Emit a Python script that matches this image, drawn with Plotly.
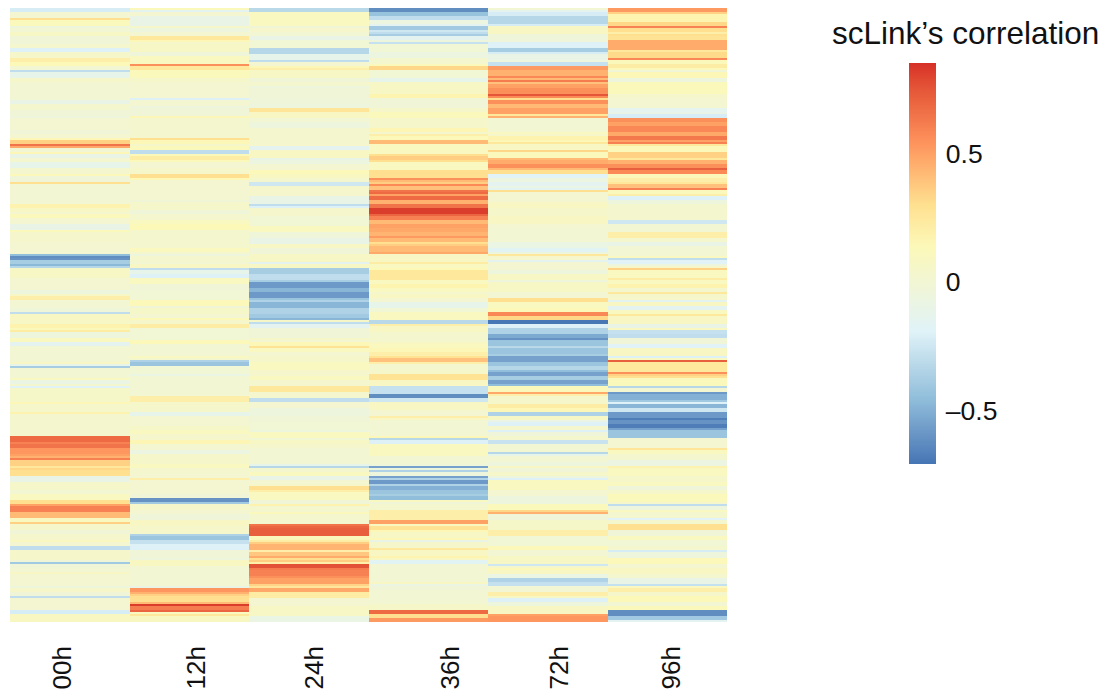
import plotly.graph_objects as go

W, H = 1109, 693
timepoints = ["00h", "12h", "24h", "36h", "72h", "96h"]
label_px = [61, 195, 313, 449, 558, 670]
bar_ticks = [-0.5, 0, 0.5]
bar_labels = ["–0.5", "0", "0.5"]
zmin, zmax = -0.708, 0.852
palette = ["#4575B4", "#91BFDB", "#E0F3F8", "#FCF8B8", "#FEE090", "#FC8D59", "#D73027"]
palette_at = [-0.708, -0.45, -0.19, 0.14, 0.30, 0.56, 0.852]

h00 = [
-.22,-.22,.02,.02,.02,.3,.12,.12,.12,-.05,
0,0,.07,.07,-.02,-.02,-.02,-.02,.03,.03,
-.2,-.2,.05,.05,.05,.2,.2,.14,.14,0,
0,-.3,-.12,-.12,-.12,.05,.05,.01,.01,.01,
.01,.01,.01,.01,.01,0,-.1,-.1,.03,.03,
.03,-.02,-.02,-.02,-.05,.02,.02,.02,.02,.02,
.02,-.02,-.02,.02,.02,.15,.35,.35,.65,.48,
0,0,.15,-.1,-.1,.02,
.03,-.12,-.12,-.12,.03,.03,.03,.13,-.02,-.02,
-.02,.3,.01,.01,.01,.01,.01,.01,.01,.01,
.01,.01,.18,.18,.08,.08,.02,.12,.12,.02,
.02,.02,-.1,-.1,-.1,.12,.04,.04,.04,.04,
.04,.02,.02,.02,.02,.02,.02,-.45,-.62,-.6,
-.38,-.38,-.47,-.33,.07,.07,.07,.07,.07,.02,
.02,.02,.02,.02,.02,-.05,-.05,.07,.2,.2,
0,0,0,0,-.03,-.03,-.3,.08,.08,.08,
.07,.07,.18,.18,.12,.22,-.05,-.05,-.05,.1,
.1,-.15,-.15,0,0,0,0,0,0,0,
0,.08,-.12,-.38,0,0,0,0,0,.1,
-.08,-.08,.03,-.18,.06,.06,.06,.06,.06,.06,
.06,.15,.05,.05,.05,.05,.18,.03,.03,.03,
.03,.03,.03,.03,.03,.03,.03,.03,.68,.68,
.68,.6,.65,.65,.53,.53,.53,.5,.45,.6,
.35,.35,.35,.25,.33,.3,.3,.3,-.1,-.1,
-.1,.05,.05,.05,.05,0,0,.1,.1,.1,
.3,.3,.5,.6,.6,.6,.42,.42,.42,.1,
.1,.35,.05,.05,.05,-.02,-.02,.04,.04,.04,
.1,.02,.02,-.3,-.3,.05,.05,.05,.05,.05,
-.02,-.4,-.02,-.02,.01,.01,.08,.02,.02,.02,
.02,.02,.02,-.05,.05,.05,-.02,-.02,-.3,.02,
.02,.02,.02,.02,.02,-.22,-.22,.09,.09,.09,.09]

h12 = [
.12,-.15,.02,.02,-.1,-.1,-.1,-.1,-.1,.05,
-.05,-.05,.02,.02,.25,.25,.15,.05,.07,.07,
.07,.07,-.03,-.03,.1,.1,.1,.1,.55,.25,
.25,.12,.12,.12,.12,.05,.05,.02,.02,.02,
.02,.02,.02,.02,.02,-.2,.02,.02,.02,-.05,
-.02,-.02,-.02,-.02,.15,.03,.03,.03,.03,.03,
.03,.03,.03,.03,.03,.3,.15,.15,.05,.12,
.12,-.3,-.3,.13,.22,.22,
.12,.02,.02,.02,.05,.05,.05,.3,.3,.14,
.02,.02,.02,.02,.02,.02,.02,.02,.02,.02,
-.02,.05,.05,.05,.05,-.03,-.03,.03,.03,.03,
.1,.1,.14,.14,.14,.03,.03,.03,.03,.03,
.03,.03,.03,.03,.11,.11,.03,-.05,.03,.03,
.03,0,.08,.08,-.3,-.12,-.12,-.2,-.2,.1,
.1,.1,-.02,-.02,-.02,-.01,-.01,-.01,-.01,-.01,
.13,.13,.13,-.02,.06,.06,.06,.02,.02,.14,
.05,.05,.22,.22,-.01,-.01,-.01,-.01,-.01,-.01,
.13,.13,0,0,0,0,0,0,.1,.03,
-.35,-.42,-.42,-.01,-.01,-.01,-.01,-.08,.01,.01,
.01,.01,.01,.01,.01,.01,.01,.01,.2,.2,
.2,.05,.05,.05,.05,.05,-.12,-.12,.02,.02,
.02,.02,.02,.06,.06,.1,.1,.04,.04,.04,
.16,.16,.02,.02,.02,-.07,-.07,.05,.05,.05,
.05,.05,.1,.1,.03,.03,.03,.02,.02,.2,
.02,.02,.02,.02,.02,.02,.02,-.02,-.02,-.6,
-.6,-.4,.05,.05,.05,.02,.02,-.03,-.03,-.03,
.08,.08,.08,.05,.05,.05,.05,-.35,-.42,-.42,
-.28,-.28,-.2,-.2,-.2,-.02,-.02,-.02,-.02,-.05,
.09,.09,.09,.01,.01,.01,.01,.01,.01,.01,
.01,.01,.01,-.1,.53,.53,.45,.35,.3,.3,
.3,.42,.82,.62,.62,.7,.1,.25,.09,.09,.09]

h24 = [
-.32,-.32,.1,.1,.1,.1,.1,.1,.1,-.02,
.04,.04,.01,.01,-.1,-.1,-.01,-.01,-.01,-.01,
-.33,-.33,-.33,-.12,-.12,-.12,-.3,.02,.02,.15,
.2,.07,.07,.07,.07,-.02,-.02,.03,.03,-.05,
-.02,-.02,-.02,-.02,-.02,-.03,-.03,-.03,-.05,-.05,
.27,.27,.08,.08,.08,0,0,-.05,-.05,-.05,
.03,.03,.03,.03,.03,.03,.03,.03,.04,-.15,
-.15,.08,.08,.08,.08,-.1,
-.06,-.06,.02,.02,.02,.13,.13,.09,.09,.03,
.03,-.25,-.25,.04,.04,.04,.04,.04,-.1,-.1,
-.1,-.1,-.3,-.2,.04,.04,.04,.04,-.01,-.01,
-.01,-.01,-.01,.1,.1,.1,-.03,-.03,-.03,-.1,
-.1,-.1,.07,.07,-.02,-.02,-.02,.07,.07,.07,
.07,-.15,.07,.07,-.38,-.38,-.38,-.3,-.3,-.3,
-.38,-.58,-.58,-.58,-.48,-.48,-.58,-.58,-.58,-.42,
-.35,-.48,-.48,-.48,-.35,-.35,-.35,-.4,-.4,-.48,
.06,-.3,-.15,-.15,-.02,-.02,-.02,-.02,-.02,.06,
.02,.15,.15,.28,.1,.1,.02,.02,.05,.05,
.05,.1,.1,.1,.1,.04,.04,.04,.1,.1,
.03,.03,.03,.25,.25,.25,.03,.03,.03,-.3,
-.3,.02,.02,.02,-.05,-.05,-.05,-.05,-.02,-.02,
-.02,-.01,-.01,-.01,-.01,-.05,.1,.1,.1,-.01,
.07,.07,.04,.04,0,0,0,0,.01,.01,
.01,.01,-.12,-.33,.03,.03,.1,.1,-.1,-.1,
.02,.02,.05,.3,.3,.2,.1,.1,.1,.1,
-.02,-.02,.18,.03,.03,.03,.12,.03,.03,.03,
.03,.03,.65,.7,.72,.72,.72,.72,.12,.12,
.22,.36,.44,.44,.44,.2,.38,.38,.47,.3,
.36,.2,.76,.76,.62,.6,.6,.6,.55,.5,
.5,.5,.34,.26,.48,.48,.22,.22,.22,.02,
.02,.02,.02,.07,.07,.07,.07,.07,-.08,-.08,-.08]

h36 = [
-.62,-.62,-.43,-.43,-.3,-.3,-.06,-.06,-.15,-.4,
-.4,-.25,-.3,-.38,-.15,-.15,-.05,-.28,-.01,-.01,
-.01,-.01,-.06,-.06,-.06,.03,.03,.03,.12,.33,
.33,-.01,-.01,-.01,-.01,-.12,-.12,.07,.07,.07,
.07,.07,.07,.17,.17,-.02,-.02,-.02,-.02,-.02,
.05,.05,.12,.12,.12,.05,.05,.05,.05,.05,
.16,.16,.03,.2,.13,.13,.42,.42,.1,.1,
.1,.1,.1,.3,.36,.36,
.3,.1,.1,.1,.1,.3,.3,.3,.3,.55,
.42,.36,.57,.4,.4,.65,.68,.5,.68,.68,
.45,.45,.65,.65,.82,.82,.82,.7,.6,.6,
.42,.42,.5,.5,.48,.48,.44,.44,.52,.42,
.42,.3,.36,.42,.42,.42,.48,.08,.08,.08,
.08,.22,.1,.1,.14,.25,.25,.25,.25,.25,
.1,.1,.17,.17,.1,.1,.03,.08,.08,.02,
.02,-.12,-.12,-.12,-.01,-.01,.1,.1,.1,.1,
-.32,-.32,.2,.08,.08,.08,.03,.03,.03,.03,
.03,.08,.11,.11,.15,.15,.2,.2,.28,.4,
.4,.2,.03,.03,.03,.05,.05,.28,.28,.28,
.08,.08,.08,-.28,-.28,-.28,-.28,-.62,-.62,-.25,
-.25,.08,.08,.08,.08,.02,.02,.02,.2,.08,
.01,.01,.01,.01,.01,.01,.01,.01,.15,-.33,
-.2,-.2,.1,.1,.1,.1,.1,.1,0,0,
0,0,-.03,-.55,-.05,-.35,-.05,-.05,-.55,-.35,
-.58,-.58,-.35,-.5,-.5,-.42,-.42,-.38,-.45,-.45,
.1,-.02,.03,.03,.03,.2,.2,.2,.2,.2,
.5,.5,.1,.28,.28,.15,.07,.07,.07,.15,
-.1,.05,.05,.05,.25,.08,.08,.08,.17,.08,
-.17,-.17,0,0,0,0,0,0,0,0,
0,.08,-.07,-.02,-.02,0,0,0,0,0,
0,0,.06,.06,.06,.68,.68,.3,.3,.52,.52]

h72 = [
0,-.15,-.22,-.22,-.33,-.33,-.33,-.33,-.22,.08,
.08,.08,.08,-.03,-.03,-.03,-.03,-.2,-.2,-.2,
-.38,-.38,-.22,-.1,-.1,-.1,-.05,-.28,-.28,.52,
.52,.45,.45,.45,.58,.42,.62,.4,.5,.5,
.55,.55,.55,.75,.57,.3,.55,.55,.42,.42,
.5,.5,.5,.25,.45,0,0,0,0,0,
0,0,.1,.05,.18,.18,.15,.25,.08,.08,
.08,.33,.12,.12,.12,.42,
.47,.47,.55,.55,.42,.3,.3,-.18,-.18,-.06,
-.06,-.15,-.15,-.08,-.17,.3,.02,.02,.02,.02,
.02,.08,.08,.08,.05,.05,.05,.05,.08,.08,
.08,.08,.02,.02,0,0,0,0,0,0,
0,-.08,-.08,-.08,-.17,-.17,-.05,.25,.04,.04,
-.15,.02,.02,.02,.02,-.05,-.05,.07,.07,.07,
-.04,.07,.07,.07,.07,.07,0,0,0,.3,
.3,.1,.1,.1,.14,.14,.58,.58,.33,.33,
-.7,-.7,-.2,-.2,-.35,-.35,-.35,-.52,-.52,-.6,
-.42,-.42,-.42,-.32,-.42,-.42,-.42,-.38,-.55,-.55,
-.55,-.42,-.42,-.33,-.33,-.45,-.55,-.55,-.38,-.38,
-.55,-.55,-.45,.12,.12,.12,.48,.2,.05,.05,
.05,.05,.22,.22,.15,.15,-.35,-.35,.07,.07,
-.1,-.2,-.2,.03,.03,-.2,-.03,-.03,.03,.03,
-.27,-.27,0,0,0,0,-.33,-.12,0,0,
0,-.05,-.05,.08,-.02,-.02,.05,.05,-.05,-.2,
.1,.1,.1,.1,.1,.02,.02,.02,-.05,-.05,
-.05,-.05,.12,.12,.12,.33,.45,-.02,-.02,-.02,
.06,.06,.06,.06,.06,.2,.2,.2,-.01,-.01,
-.01,-.01,-.01,.13,.13,0,0,0,.07,.07,
.07,.07,-.25,.05,.13,.08,.08,-.08,-.08,-.35,
-.35,-.28,-.28,0,0,0,.2,.2,.07,-.2,
-.2,-.05,-.05,.08,.08,.08,.08,.5,.53,.53,.53]

h96 = [
.52,.52,.35,.17,.17,.17,.17,.33,.33,.6,
.3,.3,.2,.3,.28,.28,.47,.47,.47,.47,
.47,.25,.32,.32,.32,.58,.12,.12,.22,.22,
.12,-.02,.15,.15,.15,-.05,-.05,.12,.12,.12,
.12,.12,.12,.04,.04,.02,.02,.02,.02,.02,
-.14,-.14,-.1,-.22,-.22,.55,.55,.5,.5,.58,
.58,.58,.48,.48,.63,.63,.5,.6,.25,.13,
.13,.13,.35,.35,.35,.25,
.45,.45,.55,.55,.72,.57,.57,.13,.13,.2,
.2,.25,.4,.4,.6,.12,.12,.2,-.2,-.2,
-.05,-.05,.03,.03,.03,.03,.03,.03,.03,.03,
-.25,-.25,0,0,0,0,.2,.2,.2,.03,
.03,-.1,-.1,0,0,0,0,0,.1,-.3,
-.18,-.18,-.05,.05,.35,.1,.1,.1,.1,.22,
.1,.1,.18,.18,.03,.03,.25,.05,.05,.05,
-.15,.08,.08,-.15,-.15,.1,.1,.25,.08,.08,
.08,.08,-.1,-.1,.1,-.28,-.28,-.3,-.3,-.02,
-.02,-.02,-.18,-.18,.08,.08,.08,.08,-.2,.1,
.72,.25,.25,.25,.25,.25,.55,.35,.3,.12,
.12,.12,.12,-.33,.02,.02,-.58,-.5,-.5,-.5,
-.4,-.2,-.48,-.48,-.25,-.25,-.58,-.58,-.58,-.68,
-.6,-.6,-.68,-.68,-.55,-.42,-.42,-.42,-.42,.02,
.02,.02,.02,.02,.27,.1,.1,.03,.03,.03,
-.07,-.07,-.07,.18,.1,.1,.1,.1,.05,.05,
.05,.1,.1,-.03,-.03,.05,.05,.13,.12,.12,
.12,.05,-.3,-.05,-.05,.1,.03,.03,.03,-.18,
.03,.03,.3,.3,.3,-.02,-.02,-.02,.1,.1,
-.01,-.01,-.01,.03,.03,-.22,-.05,-.05,-.05,.13,
.13,.13,.02,.02,.08,.08,.08,.03,.03,-.1,
-.1,-.1,-.28,.1,.2,.2,.05,.05,.14,.14,
.14,0,0,.12,.12,-.62,-.62,-.62,-.4,-.4,-.15]

columns = [h00, h12, h24, h36, h72, h96]
assert all(len(c) == 307 for c in columns), [len(c) for c in columns]
z = [list(row) for row in zip(*columns)]

FONT = "Liberation Sans, Helvetica, Arial, sans-serif"


def hex_to_lab(h):
    r, g, b = [int(h[i:i + 2], 16) / 255 for i in (1, 3, 5)]
    lin = [c / 12.92 if c <= 0.04045 else ((c + 0.055) / 1.055) ** 2.4 for c in (r, g, b)]
    X = (0.4124 * lin[0] + 0.3576 * lin[1] + 0.1805 * lin[2]) / 0.95047
    Y = 0.2126 * lin[0] + 0.7152 * lin[1] + 0.0722 * lin[2]
    Z = (0.0193 * lin[0] + 0.1192 * lin[1] + 0.9505 * lin[2]) / 1.08883
    f = [t ** (1 / 3) if t > 0.008856 else 7.787 * t + 16 / 116 for t in (X, Y, Z)]
    return 116 * f[1] - 16, 500 * (f[0] - f[1]), 200 * (f[1] - f[2])


def lab_to_hex(L, a, b):
    fy = (L + 16) / 116
    fx, fz = fy + a / 500, fy - b / 200
    X, Y, Z = [t ** 3 if t ** 3 > 0.008856 else (t - 16 / 116) / 7.787 for t in (fx, fy, fz)]
    X, Z = X * 0.95047, Z * 1.08883
    lin = (3.2406 * X - 1.5372 * Y - 0.4986 * Z,
           -0.9689 * X + 1.8758 * Y + 0.0415 * Z,
           0.0557 * X - 0.2040 * Y + 1.0570 * Z)
    out = []
    for c in lin:
        c = max(0.0, min(1.0, c))
        c = 12.92 * c if c <= 0.0031308 else 1.055 * c ** (1 / 2.4) - 0.055
        out.append(round(c * 255))
    return "#%02X%02X%02X" % tuple(out)


# colour ramp blended in Lab space, which gives the greyer mid-tones of the reference
steps = 12
span = zmax - zmin
scale = []
for i in range(len(palette) - 1):
    a, b = hex_to_lab(palette[i]), hex_to_lab(palette[i + 1])
    for s in range(steps):
        t = s / steps
        v = palette_at[i] + (palette_at[i + 1] - palette_at[i]) * t
        scale.append([(v - zmin) / span, lab_to_hex(*[p + (q - p) * t for p, q in zip(a, b)])])
scale.append([1.0, palette[-1]])

fig = go.Figure(go.Heatmap(
    z=z, x=timepoints, zmin=zmin, zmax=zmax, colorscale=scale,
    colorbar=dict(
        x=909 / W, xanchor="left", xref="paper",
        y=1 - 464 / H, yanchor="bottom", yref="paper",
        len=401, lenmode="pixels", thickness=27, thicknessmode="pixels",
        xpad=0, ypad=0, outlinewidth=0,
        tickmode="array", tickvals=bar_ticks, ticktext=bar_labels,
        ticks="outside", ticklen=5, tickcolor="rgba(0,0,0,0)",
        tickfont=dict(family=FONT, size=26.5, color="#111111"),
    ),
))

annotations = [dict(
    text=t, x=px / W, y=1 - 645 / H, xref="paper", yref="paper",
    xanchor="center", yanchor="top", textangle=-90, showarrow=False,
    font=dict(family=FONT, size=26, color="#111111"),
) for t, px in zip(timepoints, label_px)]
annotations.append(dict(
    text="scLink’s correlation", x=830 / W, y=1 - 33 / H, xref="paper", yref="paper",
    xanchor="left", yanchor="middle", showarrow=False,
    font=dict(family=FONT, size=31.5, color="#111111"),
))

fig.update_layout(
    width=W, height=H, autosize=False,
    margin=dict(l=0, r=0, t=0, b=0, pad=0),
    paper_bgcolor="white", plot_bgcolor="white",
    xaxis=dict(domain=[10 / W, 727 / W], showticklabels=False, ticks="", showgrid=False, zeroline=False),
    yaxis=dict(domain=[1 - 622 / H, 1 - 8 / H], autorange="reversed", showticklabels=False, ticks="", showgrid=False, zeroline=False),
    annotations=annotations,
)
fig.write_html("out.html", config={"displayModeBar": False}, post_script="document.body.style.margin='0';")
